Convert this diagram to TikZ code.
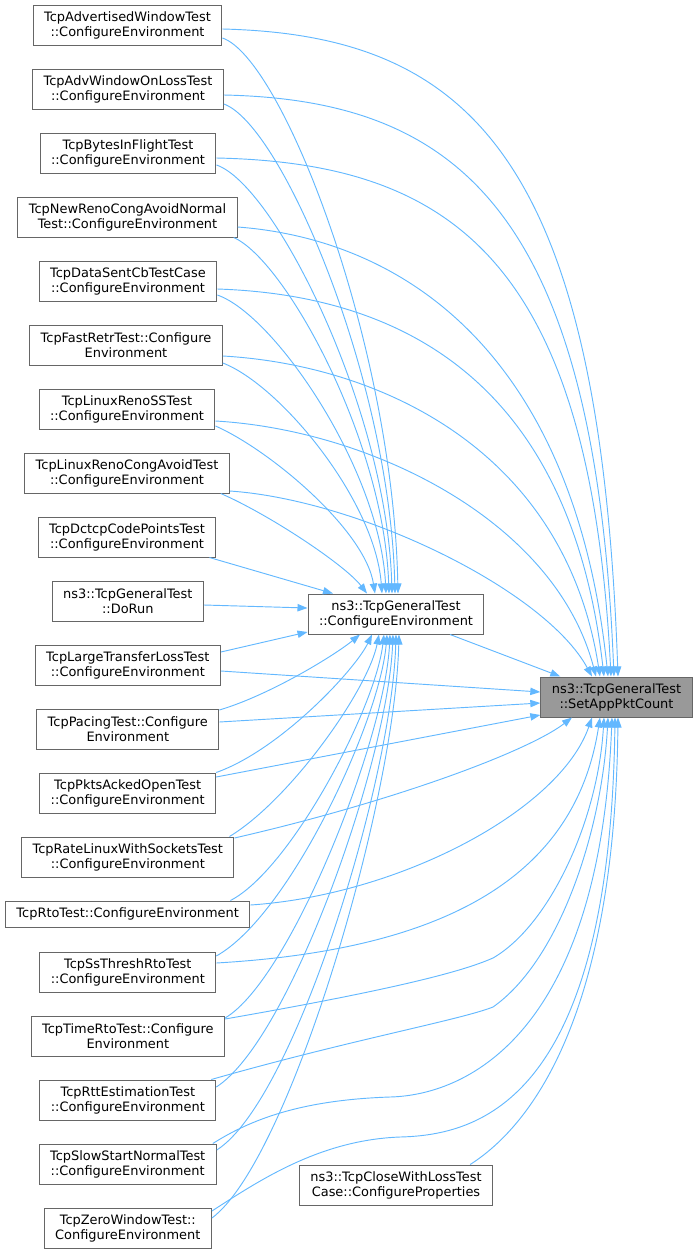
\documentclass[tikz,border=0pt]{standalone}
\usepackage{fontspec}
\setmainfont{DejaVu Sans}
\usetikzlibrary{arrows.meta,calc}
\definecolor{edgeblue}{RGB}{99,184,255}
\definecolor{boxline}{RGB}{102,102,102}
\definecolor{focusfill}{RGB}{153,153,153}

\begin{document}
\begin{tikzpicture}[x=0.75pt,y=-0.75pt,
    func/.style={
% The shape:
rectangle, align=center,
% The size:
minimum height=30pt, inner xsep=8.25pt, inner ysep=2pt,
% The border:
draw=boxline, fill=white, line width=0.75pt,
% The text:
font=\fontsize{9.7pt}{11.25pt}\selectfont,
},
    focus/.style={
func,
% The fill:
fill=focusfill,
},
    callline/.style={
% The line:
draw=edgeblue, line width=0.7pt,
% The tip:
-{Triangle[length=7.5pt,width=5.5pt,fill=edgeblue]},
},
]
  \useasboundingbox (0,0) rectangle (697,1253);

  \node[func]  (adv)      at (127.5, 25)   {TcpAdvertisedWindowTest\\::ConfigureEnvironment};
  \node[func]  (advloss)  at (128, 89)     {TcpAdvWindowOnLossTest\\::ConfigureEnvironment};
  \node[func]  (bytes)    at (128, 153)    {TcpBytesInFlightTest\\::ConfigureEnvironment};
  \node[func]  (newreno)  at (127.5, 217)  {TcpNewRenoCongAvoidNormal\\Test::ConfigureEnvironment};
  \node[func]  (datasent) at (128, 281)    {TcpDataSentCbTestCase\\::ConfigureEnvironment};
  \node[func]  (fastretr) at (126, 345)    {TcpFastRetrTest::Configure\\Environment};
  \node[func]  (renoss)   at (127, 409)    {TcpLinuxRenoSSTest\\::ConfigureEnvironment};
  \node[func]  (renoca)   at (127, 473)    {TcpLinuxRenoCongAvoidTest\\::ConfigureEnvironment};
  \node[func]  (dctcp)    at (127, 537)    {TcpDctcpCodePointsTest\\::ConfigureEnvironment};
  \node[func]  (dorun)    at (127.8, 601)  {ns3::TcpGeneralTest\\::DoRun};
  \node[func]  (large)    at (127.8, 665)  {TcpLargeTransferLossTest\\::ConfigureEnvironment};
  \node[func]  (pacing)   at (127.8, 729)  {TcpPacingTest::Configure\\Environment};
  \node[func]  (pkts)     at (127.7, 793)  {TcpPktsAckedOpenTest\\::ConfigureEnvironment};
  \node[func]  (rate)     at (127.8, 857)  {TcpRateLinuxWithSocketsTest\\::ConfigureEnvironment};
  \node[func,minimum height=19.5pt]
               (rto)      at (127.7, 914)  {TcpRtoTest::ConfigureEnvironment};
  \node[func]  (ssthresh) at (127.8, 972)  {TcpSsThreshRtoTest\\::ConfigureEnvironment};
  \node[func]  (timerto)  at (127.8, 1036) {TcpTimeRtoTest::Configure\\Environment};
  \node[func]  (rtt)      at (127.8, 1100) {TcpRttEstimationTest\\::ConfigureEnvironment};
  \node[func]  (slow)     at (127.7, 1164) {TcpSlowStartNormalTest\\::ConfigureEnvironment};
  \node[func]  (zero)     at (127.8, 1228) {TcpZeroWindowTest::\\ConfigureEnvironment};
  \node[func]  (conf)     at (396, 614)    {ns3::TcpGeneralTest\\::ConfigureEnvironment};
  \node[func]  (close)    at (396, 1185)   {ns3::TcpCloseWithLossTest\\Case::ConfigureProperties};
  \node[focus] (app)      at (616.5, 697)  {ns3::TcpGeneralTest\\::SetAppPktCount};

  % callers above, into ConfigureEnvironment
  \draw[callline] ($(adv.east)+(0,13)$) .. controls (282,58) and (393,343) .. ($(conf.north)+(2,0)$);
  \draw[callline] ($(advloss.east)+(0,15)$) .. controls (282,125) and (390,380) .. ($(conf.north)+(-1,0)$);
  \draw[callline] ($(bytes.east)+(0,12)$) .. controls (275,185) and (387,410) .. ($(conf.north)+(-4,0)$);
  \draw[callline] ($(newreno.south east)+(-4,0)$) .. controls (285,260) and (384,440) .. ($(conf.north)+(-7,0)$);
  \draw[callline] ($(datasent.east)+(0,14)$) .. controls (275,315) and (380,470) .. ($(conf.north)+(-10,0)$);
  \draw[callline] ($(fastretr.east)+(0,18)$) .. controls (280,385) and (375,500) .. ($(conf.north)+(-14,0)$);
  \draw[callline] ($(renoss.east)+(0,17)$) .. controls (270,450) and (365,530) .. ($(conf.north)+(-21,0)$);
  \draw[callline] ($(renoca.south east)+(-9,0)$) .. controls (270,515) and (345,565) .. ($(conf.north)+(-29,0)$);
  \draw[callline] ($(dctcp.south east)+(-7,0)$) -- ($(conf.north)+(-63,0)$);
  \draw[callline] ($(dorun.east)+(0,4)$) -- ($(conf.west)+(0,-6)$);
  \draw[callline] ($(large.east)+(0,-13)$) -- ($(conf.west)+(0,18)$);

  % callers above, into SetAppPktCount
  \draw[callline] ($(adv.east)+(0,4)$) .. controls (470,35) and (600,158) .. ($(app.north)+(1.5,0)$);
  \draw[callline] ($(advloss.east)+(0,6)$) .. controls (458,100) and (595,211) .. ($(app.north)+(-2.5,0)$);
  \draw[callline] ($(bytes.east)+(0,5)$) .. controls (452,163) and (590,261) .. ($(app.north)+(-5.5,0)$);
  \draw[callline] ($(newreno.east)+(0,10)$) .. controls (410,240) and (575,360) .. ($(app.north)+(-8.5,0)$);
  \draw[callline] ($(datasent.east)+(0,8)$) .. controls (400,295) and (570,380) .. ($(app.north)+(-12.5,0)$);
  \draw[callline] ($(fastretr.east)+(0,11)$) .. controls (380,365) and (565,450) .. ($(app.north)+(-16.5,0)$);
  \draw[callline] ($(renoss.east)+(0,12)$) .. controls (370,430) and (555,520) .. ($(app.north)+(-20.5,0)$);
  \draw[callline] ($(renoca.east)+(0,18)$) .. controls (360,500) and (545,590) .. ($(app.north)+(-24.5,0)$);
  \draw[callline] ($(conf.south)+(54,0)$) -- ($(app.north west)+(20,0)$);
  \draw[callline] ($(large.east)+(0,6)$) -- ($(app.west)+(0,-5)$);
  \draw[callline] ($(pacing.east)+(0,-7)$) -- ($(app.west)+(0,6)$);
  \draw[callline] ($(pkts.east)+(0,-16)$) -- ($(app.west)+(0,18)$);

  % callers below, into ConfigureEnvironment
  \draw[callline] ($(pacing.east)+(0,-19)$) .. controls (270,695) and (335,655) .. ($(conf.south)+(-36,0)$);
  \draw[callline] (pkts.north east) .. controls (280,750) and (355,670) .. ($(conf.south)+(-24,0)$);
  \draw[callline] ($(rate.north east)+(-5,0)$) .. controls (290,800) and (368,690) .. ($(conf.south)+(-17,0)$);
  \draw[callline] ($(rto.north east)+(-20,0)$) .. controls (290,870) and (375,710) .. ($(conf.south)+(-12,0)$);
  \draw[callline] ($(ssthresh.east)+(0,-16)$) .. controls (290,915) and (380,720) .. ($(conf.south)+(-9,0)$);
  \draw[callline] ($(timerto.east)+(0,-18)$) .. controls (290,980) and (385,740) .. ($(conf.south)+(-6,0)$);
  \draw[callline] ($(rtt.east)+(0,-13)$) .. controls (290,1040) and (388,760) .. ($(conf.south)+(-3,0)$);
  \draw[callline] ($(slow.east)+(0,-14)$) .. controls (295,1100) and (392,780) .. (conf.south);
  \draw[callline] ($(zero.east)+(0,-10)$) .. controls (290,1160) and (395,800) .. ($(conf.south)+(3,0)$);

  % callers below, into SetAppPktCount
  \draw[callline] ($(rate.east)+(0,-19)$) .. controls (400,800) and (530,750) .. ($(app.south)+(-44.5,0)$);
  \draw[callline] ($(rto.east)+(0,-9)$) .. controls (400,895) and (560,810) .. ($(app.south)+(-24.5,0)$);
  \draw[callline] ($(ssthresh.east)+(0,-9)$) .. controls (440,950) and (575,880) .. ($(app.south)+(-16.5,0)$);
  \draw[callline] ($(timerto.east)+(0,-17)$) .. controls (420,985) and (470,968) .. (493,958)
    .. controls (550,925) and (598,820) .. ($(app.south)+(-12.5,0)$);
  \draw[callline] ($(rtt.north east)+(-5,0)$) .. controls (350,1040) and (460,1020) .. (493,1007)
    .. controls (560,960) and (602,830) .. ($(app.south)+(-8.5,0)$);
  \draw[callline] ($(slow.north east)+(-4,0)$) .. controls (250,1120) and (300,1100) .. (390,1097)
    .. controls (470,1095) and (600,1030) .. ($(app.south)+(-4.5,0)$);
  \draw[callline] ($(zero.east)+(0,-17)$) .. controls (260,1180) and (320,1140) .. (400,1137)
    .. controls (480,1135) and (610,1100) .. ($(app.south)+(-1.5,0)$);
  \draw[callline] ($(close.north east)+(-23,0)$) .. controls (540,1120) and (615,1000) .. ($(app.south)+(1.5,0)$);

\end{tikzpicture}
\end{document}
